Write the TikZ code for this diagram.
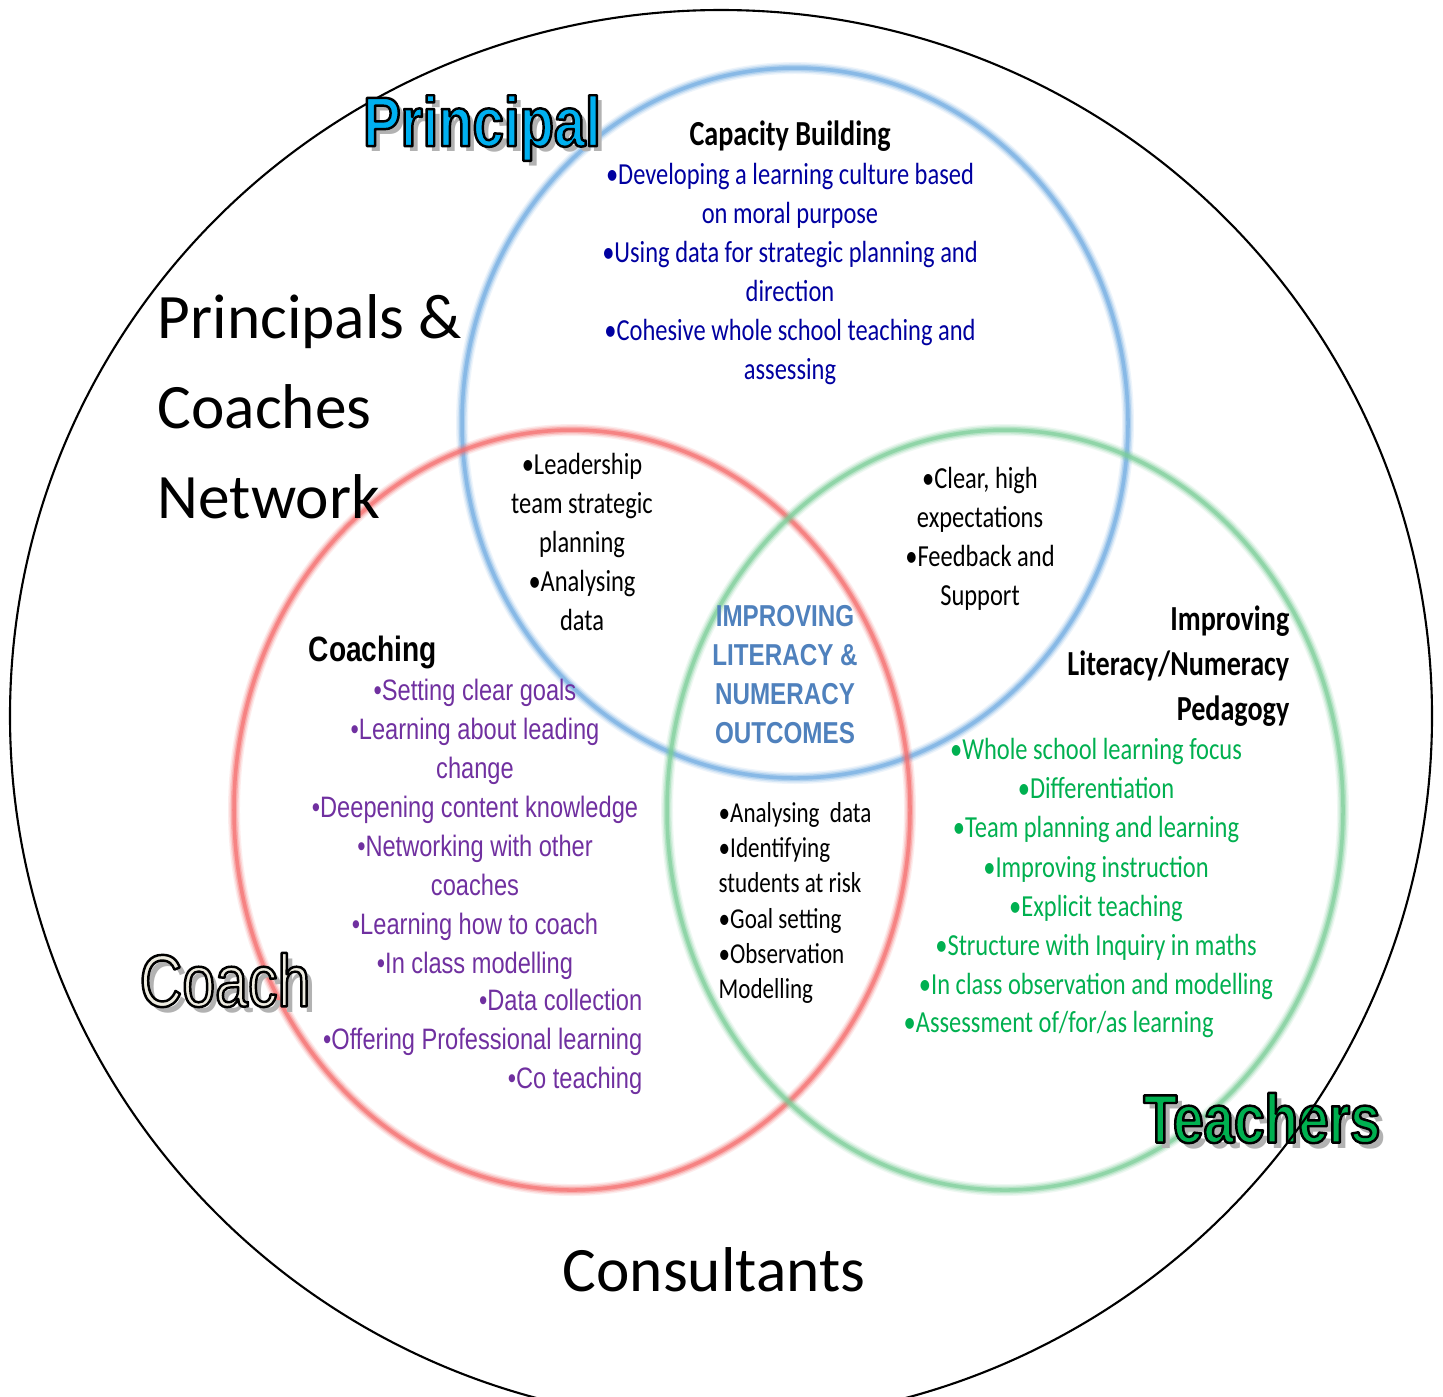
\documentclass[tikz,border=0pt]{standalone}
\usepackage{fontspec}
\setmainfont{Carlito}
\newfontfamily\calnarrow[FakeStretch=0.8]{Carlito}
\newfontfamily\artfont[FakeStretch=0.8]{Liberation Sans}

\definecolor{ringblue}{RGB}{110,170,225}
\definecolor{ringred}{RGB}{245,105,105}
\definecolor{ringgreen}{RGB}{120,205,150}
\definecolor{capblue}{RGB}{0,0,160}
\definecolor{coachpurple}{RGB}{112,48,160}
\definecolor{teachgreen}{RGB}{0,176,80}
\definecolor{outcomeblue}{RGB}{79,129,189}
\definecolor{principalblue}{RGB}{0,176,240}
\definecolor{coachcream}{RGB}{238,236,225}

\tikzset{
  item/.style={font=\calnarrow\fontsize{8.7}{11.1}\selectfont, align=center, inner sep=0pt},
  heading/.style={font=\calnarrow\bfseries\fontsize{10}{12.8}\selectfont, inner sep=0pt},
  arialitem/.style={font=\artfont\fontsize{8.4}{11.1}\selectfont, text=coachpurple, inner sep=0pt},
  arttext/.style={inner sep=0pt},
  network/.style={font=\fontsize{18}{25.6}\selectfont, inner sep=0pt}
}

% soft ring: colour, centre, x radius, y radius
\newcommand{\ring}[4]{%
  \foreach \w/\o in {3.4pt/0.12,2.6pt/0.2,1.8pt/0.35,1.0pt/0.6}
    \draw[#1, line width=\w, opacity=\o] (#2) ellipse [x radius=#3, y radius=#4];}

% filled text with a black outline
\newcommand{\strokedtext}[1]{%
  \special{pdf:literal direct 0 0 0 RG 0.7 w 1 j 2 Tr}#1\special{pdf:literal direct 0 Tr}}

% outlined title: name, centre, fill, font, text
\newcommand{\outlined}[5]{%
  \coordinate (#1-c) at (#2);
  \node[arttext, font=#4, text=black!30] (#1-shadow) at ([shift={(1.6pt,-1.6pt)}]#1-c) {#5};
  \node[arttext, font=#4, text=#3] (#1) at (#1-c) {\strokedtext{#5}};}

\begin{document}
\begin{tikzpicture}[x=0.01cm,y=-0.01cm]
\useasboundingbox[fill=white] (0,0) rectangle (1443,1396);
\clip (0,0) rectangle (1443,1396);

\ring{ringblue}{795,423}{333}{355}
\ring{ringred}{572,810}{338}{380}
\ring{ringgreen}{1005,810}{338}{380}

\outlined{teachers}{1262,1118}{teachgreen}{\artfont\bfseries\fontsize{19.5}{22}\selectfont}{Teachers}
\draw[line width=0.6pt] (721,716) ellipse [x radius=711, y radius=706];

\outlined{principal}{482,128}{principalblue}{\artfont\bfseries\fontsize{20}{22}\selectfont}{Principal}
\outlined{coach}{225,980}{coachcream}{\artfont\fontsize{21}{22}\selectfont}{Coach}

\node[network, align=left, anchor=west] (network) at (157,407) {Principals \&\\Coaches\\Network};
\node[font=\fontsize{18}{22}\selectfont, inner sep=0pt] (consultants) at (714,1270) {Consultants};

\node[heading] (capacity) at (790,136) {Capacity Building};
\node[item, text=capblue] (capitems) at (790,274) {•Developing a learning culture based\\on moral purpose\\•Using data for strategic planning and\\direction\\•Cohesive whole school teaching and\\assessing};

\node[item] (leadership) at (582,542) {•Leadership\\team strategic\\planning\\•Analysing\\data};
\node[item] (expectations) at (980,539) {•Clear, high\\expectations\\•Feedback and\\Support};

\node[font=\artfont\bfseries\fontsize{8.6}{11.1}\selectfont, text=outcomeblue, align=center, inner sep=0pt] (outcomes) at (785,675) {IMPROVING\\LITERACY \&\\NUMERACY\\OUTCOMES};

\node[item, font=\calnarrow\fontsize{8.2}{10}\selectfont, align=left, anchor=west] (analysing) at (718,903) {•Analysing\ \ data\\•Identifying\\students at risk\\•Goal setting\\•Observation\\Modelling};

\node[heading, align=right, anchor=east] (pedagogy) at (1290,666) {Improving\\Literacy/Numeracy\\Pedagogy};
\node[item, text=teachgreen] (teachitems) at (1096,869) {•Whole school learning focus\\•Differentiation\\•Team planning and learning\\•Improving instruction\\•Explicit teaching\\•Structure with Inquiry in maths\\•In class observation and modelling};
\node[item, text=teachgreen, anchor=west] (assessment) at (903,1024) {•Assessment of/for/as learning};

\node[font=\artfont\bfseries\fontsize{10}{12}\selectfont, anchor=west, inner sep=0pt] (coaching) at (308,652) {Coaching};
\node[arialitem, align=center] (coachitems) at (475,829) {•Setting clear goals\\•Learning about leading\\change\\•Deepening content knowledge\\•Networking with other\\coaches\\•Learning how to coach\\•In class modelling};
\node[arialitem, align=right, anchor=east] (coachmore) at (643,1042) {•Data collection\\•Offering Professional learning\\•Co teaching};
\end{tikzpicture}
\end{document}
